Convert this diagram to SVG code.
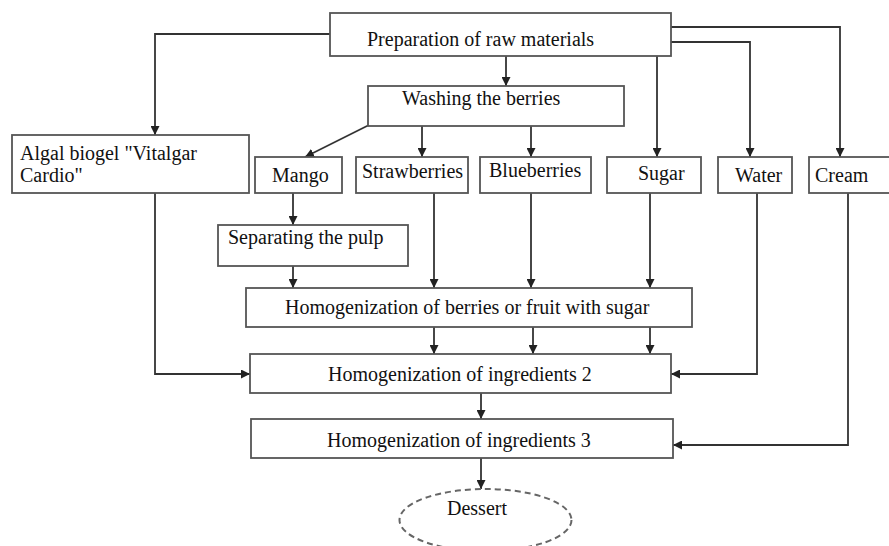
<svg xmlns="http://www.w3.org/2000/svg" width="889" height="546" viewBox="0 0 889 546">
<style>
  .box { fill: #fff; stroke: #555; stroke-width: 1.8; }
  .t { font-family: "Liberation Serif", "Times New Roman", serif; font-size: 20px; fill: #111; }
  .c { fill: none; stroke: #333; stroke-width: 1.8; }
  .ell { fill: #fff; stroke: #666; stroke-width: 2; stroke-dasharray: 6 4; }
</style>
<defs>
  <marker id="ah" viewBox="0 0 10 10" refX="10" refY="5" markerWidth="9" markerHeight="9" markerUnits="userSpaceOnUse" orient="auto">
    <path d="M0,0 L10,5 L0,10 Z" fill="#222"/>
  </marker>
</defs>
<rect width="889" height="546" fill="#fff"/>
<g id="connectors">
  <path class="c" d="M330,34 H155 V135" marker-end="url(#ah)"/>
  <path class="c" d="M506,56 V86" marker-end="url(#ah)"/>
  <path class="c" d="M657,56 V157" marker-end="url(#ah)"/>
  <path class="c" d="M671,42 H750 V157" marker-end="url(#ah)"/>
  <path class="c" d="M671,27 H840 V157" marker-end="url(#ah)"/>
  <path class="c" d="M369,125 L305,157" marker-end="url(#ah)"/>
  <path class="c" d="M422,126 V157" marker-end="url(#ah)"/>
  <path class="c" d="M531,126 V157" marker-end="url(#ah)"/>
  <path class="c" d="M293,193 V225" marker-end="url(#ah)"/>
  <path class="c" d="M293,266 V288" marker-end="url(#ah)"/>
  <path class="c" d="M434,193 V288" marker-end="url(#ah)"/>
  <path class="c" d="M531,193 V288" marker-end="url(#ah)"/>
  <path class="c" d="M650,193 V288" marker-end="url(#ah)"/>
  <path class="c" d="M434,327 V354" marker-end="url(#ah)"/>
  <path class="c" d="M533,327 V354" marker-end="url(#ah)"/>
  <path class="c" d="M650,327 V354" marker-end="url(#ah)"/>
  <path class="c" d="M155,193 V374 H250" marker-end="url(#ah)"/>
  <path class="c" d="M757,193 V374 H671" marker-end="url(#ah)"/>
  <path class="c" d="M481,393 V419" marker-end="url(#ah)"/>
  <path class="c" d="M848,193 V445 H673" marker-end="url(#ah)"/>
  <path class="c" d="M481,458 V489" marker-end="url(#ah)"/>
</g>
<g id="prep">
  <rect class="box" x="330" y="13" width="341" height="43"/>
  <text class="t" x="367" y="46">Preparation of raw materials</text>
</g>
<g id="washing">
  <rect class="box" x="368" y="86" width="256" height="40"/>
  <text class="t" x="402" y="105">Washing the berries</text>
</g>
<g id="algal">
  <rect class="box" x="12" y="135" width="237" height="58"/>
  <text class="t" x="20" y="160">Algal biogel "Vitalgar</text>
  <text class="t" x="20" y="182">Cardio"</text>
</g>
<g id="mango">
  <rect class="box" x="255" y="157" width="87" height="36"/>
  <text class="t" x="272" y="182">Mango</text>
</g>
<g id="strawberries">
  <rect class="box" x="356" y="157" width="112" height="36"/>
  <text class="t" x="362" y="178">Strawberries</text>
</g>
<g id="blueberries">
  <rect class="box" x="480" y="157" width="111" height="36"/>
  <text class="t" x="489" y="177">Blueberries</text>
</g>
<g id="sugar">
  <rect class="box" x="607" y="157" width="94" height="36"/>
  <text class="t" x="638" y="180">Sugar</text>
</g>
<g id="water">
  <rect class="box" x="718" y="157" width="74" height="36"/>
  <text class="t" x="735" y="182">Water</text>
</g>
<g id="cream">
  <rect class="box" x="809" y="157" width="90" height="36"/>
  <text class="t" x="815" y="182">Cream</text>
</g>
<g id="separating">
  <rect class="box" x="218" y="225" width="190" height="41"/>
  <text class="t" x="228" y="244">Separating the pulp</text>
</g>
<g id="homog1">
  <rect class="box" x="246" y="288" width="446" height="39"/>
  <text class="t" x="285" y="314">Homogenization of berries or fruit with sugar</text>
</g>
<g id="homog2">
  <rect class="box" x="250" y="354" width="421" height="39"/>
  <text class="t" x="328" y="381">Homogenization of ingredients 2</text>
</g>
<g id="homog3">
  <rect class="box" x="251" y="419" width="422" height="39"/>
  <text class="t" x="327" y="447">Homogenization of ingredients 3</text>
</g>
<g id="dessert">
  <ellipse class="ell" cx="485.5" cy="520" rx="86" ry="31"/>
  <text class="t" x="447" y="515">Dessert</text>
</g>
</svg>
